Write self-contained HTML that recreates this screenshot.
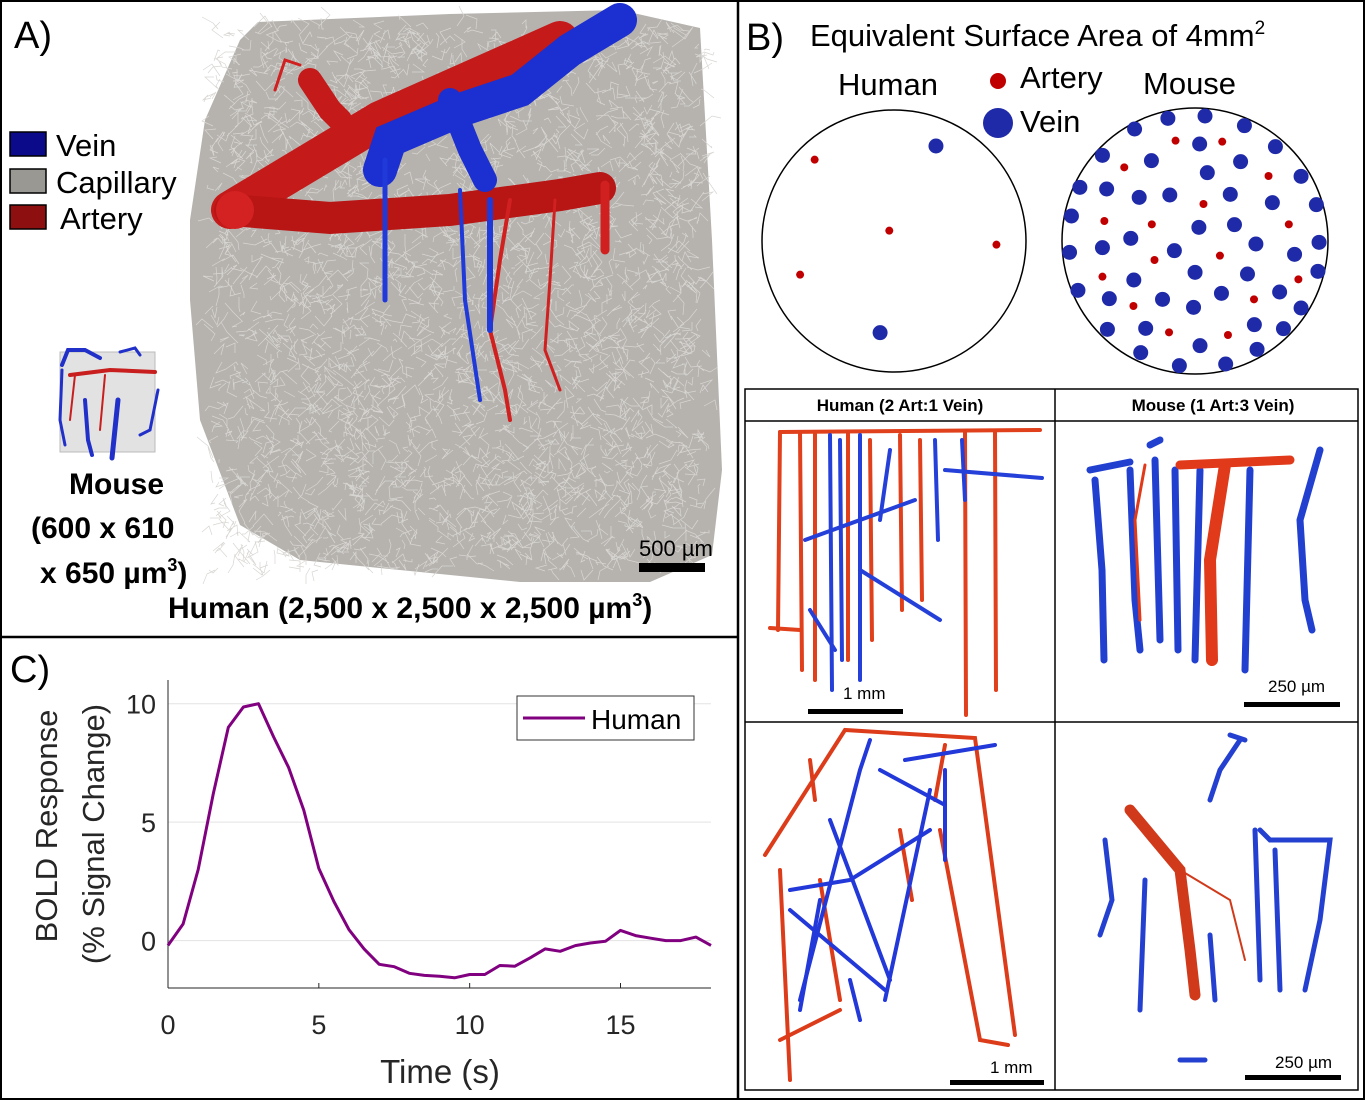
<!DOCTYPE html>
<html><head><meta charset="utf-8">
<style>
html,body{margin:0;padding:0;background:#fff;}
body{width:1365px;height:1100px;position:relative;overflow:hidden;font-family:"Liberation Sans",sans-serif;}
svg{position:absolute;left:0;top:0;}
</style></head>
<body>
<svg id="fig" width="1365" height="1100" viewBox="0 0 1365 1100">
  <rect x="1" y="1" width="1363" height="1098" fill="#fff" stroke="#000" stroke-width="2"/>
  <line x1="738" y1="0" x2="738" y2="1100" stroke="#000" stroke-width="2.5"/>
  <line x1="0" y1="637" x2="738" y2="637" stroke="#000" stroke-width="2.5"/>

  <!-- Panel A -->
  <g id="panelA">
    <text x="14" y="48" font-size="38">A)</text>
    <polygon id="volume" points="258,22 450,14 620,10 700,28 712,240 722,470 712,555 650,582 520,582 300,560 240,525 200,420 190,300 190,220 205,120 240,40" fill="#b6b3af"/>
    <g id="caps" stroke="#d8d6d2" stroke-width="0.7" fill="none"></g>
    <!-- arteries -->
    <g stroke-linecap="round" fill="none">
      <path d="M230,210 L380,120 L560,40" stroke="#c41a1a" stroke-width="38"/>
      <path d="M230,210 L330,218 L450,210 L560,195 L600,188" stroke="#b81515" stroke-width="32"/>
      <path d="M310,80 L330,110 L340,120" stroke="#c41a1a" stroke-width="24"/>
      <path d="M605,185 L605,250" stroke="#d02020" stroke-width="9"/>
      <path d="M510,200 L500,260 L490,330 L505,390 L510,420" stroke="#d02020" stroke-width="4"/>
      <path d="M555,200 L550,280 L545,350 L560,390" stroke="#d02020" stroke-width="3"/>
      <path d="M275,90 L285,60 L300,65" stroke="#d02020" stroke-width="3"/>
    </g>
    <circle cx="235" cy="210" r="19" fill="#d42222"/>
    <!-- veins -->
    <g stroke-linecap="round" fill="none">
      <path d="M380,170 L390,140 L460,110 L520,90 L570,50 L620,20" stroke="#1c2fd0" stroke-width="34"/>
      <path d="M450,100 L470,150 L485,180" stroke="#1c2fd0" stroke-width="24"/>
      <path d="M385,160 L385,300" stroke="#1f3ad8" stroke-width="5"/>
      <path d="M460,190 L465,300 L480,400" stroke="#1f3ad8" stroke-width="4"/>
      <path d="M490,200 L490,330" stroke="#1f3ad8" stroke-width="6"/>
    </g>
    <!-- legend -->
    <g>
      <rect x="10" y="132" width="36" height="24" fill="#0a0a8a" stroke="#000" stroke-width="1.5"/>
      <text x="56" y="156" font-size="31">Vein</text>
      <rect x="10" y="169" width="36" height="24" fill="#9a9893" stroke="#000" stroke-width="1.5"/>
      <text x="56" y="193" font-size="31">Capillary</text>
      <rect x="10" y="205" width="36" height="24" fill="#8e0f0f" stroke="#000" stroke-width="1.5"/>
      <text x="60" y="229" font-size="31">Artery</text>
    </g>
    <!-- mouse mini -->
    <g fill="none" stroke-linecap="round">
      <rect x="60" y="352" width="95" height="100" fill="#e2e2e2" stroke="#bbb"/>
      <path d="M62,365 L68,350 L85,350 L100,358" stroke="#2130c8" stroke-width="4"/>
      <path d="M120,352 L135,348 L140,355" stroke="#2130c8" stroke-width="3"/>
      <path d="M62,370 L60,420 L65,445" stroke="#2130c8" stroke-width="3"/>
      <path d="M85,400 L88,440 L92,455" stroke="#2130c8" stroke-width="4"/>
      <path d="M118,400 L112,458" stroke="#2130c8" stroke-width="5"/>
      <path d="M158,390 L150,430 L140,435" stroke="#2130c8" stroke-width="3"/>
      <path d="M70,375 L110,370 L155,372" stroke="#c81e1e" stroke-width="4"/>
      <path d="M75,375 L70,420" stroke="#c81e1e" stroke-width="2"/>
      <path d="M105,375 L100,430" stroke="#c81e1e" stroke-width="2"/>
    </g>
    <g font-weight="bold" font-size="30">
      <text x="69" y="494">Mouse</text>
      <text x="31" y="538">(600 x 610</text>
      <text x="40" y="583">x 650 µm<tspan font-size="18" dy="-12">3</tspan><tspan dy="12">)</tspan></text>
      <text x="168" y="618">Human (2,500 x 2,500 x 2,500 µm<tspan font-size="18" dy="-12">3</tspan><tspan dy="12">)</tspan></text>
    </g>
    <text x="639" y="556" font-size="22">500 µm</text>
    <rect x="639" y="563" width="66" height="9" fill="#000"/>
  </g>

  <!-- Panel B top -->
  <g id="panelB">
    <text x="746" y="50" font-size="38">B)</text>
    <text x="810" y="46" font-size="31">Equivalent Surface Area of 4mm<tspan font-size="19" dy="-12">2</tspan></text>
    <text x="838" y="95" font-size="31">Human</text>
    <text x="1143" y="94" font-size="31">Mouse</text>
    <circle cx="998" cy="81" r="8" fill="#c00000"/>
    <text x="1020" y="88" font-size="31">Artery</text>
    <circle cx="998" cy="123" r="15" fill="#1f2aa8"/>
    <text x="1020" y="132" font-size="31">Vein</text>
    <ellipse cx="894" cy="241" rx="132" ry="131" fill="none" stroke="#000" stroke-width="1.5"/>
    <ellipse cx="1195" cy="241" rx="133" ry="133" fill="none" stroke="#000" stroke-width="1.5"/>
    <g id="dots"></g>

    <!-- lower table -->
    <g>
      <rect x="745" y="389" width="613" height="701" fill="none" stroke="#000" stroke-width="1.5"/>
      <line x1="1055" y1="389" x2="1055" y2="1090" stroke="#000" stroke-width="1.5"/>
      <line x1="745" y1="421" x2="1358" y2="421" stroke="#000" stroke-width="1.5"/>
      <line x1="745" y1="722" x2="1358" y2="722" stroke="#000" stroke-width="1.5"/>
      <text x="900" y="411" font-size="17" font-weight="bold" text-anchor="middle">Human (2 Art:1 Vein)</text>
      <text x="1213" y="411" font-size="17" font-weight="bold" text-anchor="middle">Mouse (1 Art:3 Vein)</text>
    </g>
    <!-- human top -->
    <g fill="none" stroke-linecap="round">
      <g stroke="#e0401c" stroke-width="4">
        <path d="M780,432 L1040,430"/><path d="M780,432 L778,630"/><path d="M800,432 L802,670"/>
        <path d="M815,432 L815,680"/><path d="M848,432 L848,660"/><path d="M870,440 L872,640"/>
        <path d="M900,435 L902,610"/><path d="M965,432 L966,715"/><path d="M995,432 L996,690"/>
        <path d="M920,440 L922,600"/><path d="M770,628 L800,630"/>
      </g>
      <g stroke="#2540d8" stroke-width="4">
        <path d="M830,435 L832,690"/><path d="M840,440 L842,660"/><path d="M860,435 L860,680"/>
        <path d="M805,540 L915,500"/><path d="M860,570 L940,620"/><path d="M945,470 L1042,478"/>
        <path d="M935,440 L938,540"/><path d="M962,440 L965,500"/><path d="M810,610 L835,650"/>
        <path d="M890,450 L880,520"/>
      </g>
      <rect x="808" y="709" width="95" height="5" fill="#000" stroke="none"/>
      <text x="843" y="699" font-size="17" fill="#000" stroke="none">1 mm</text>
    </g>
    <!-- mouse top -->
    <g fill="none" stroke-linecap="round">
      <g stroke="#2240d0" stroke-width="7">
        <path d="M1095,480 L1102,570 L1104,660"/><path d="M1090,470 L1130,462"/>
        <path d="M1130,470 L1135,600 L1140,650"/><path d="M1155,460 L1160,640"/>
        <path d="M1175,470 L1178,650"/><path d="M1200,470 L1195,660"/>
        <path d="M1250,470 L1245,670"/><path d="M1320,450 L1300,520 L1305,600 L1312,630"/>
        <path d="M1150,445 L1160,440"/>
      </g>
      <path d="M1180,465 L1290,460" stroke="#e03a1a" stroke-width="9"/>
      <path d="M1225,465 L1210,560 L1212,660" stroke="#e03a1a" stroke-width="12"/>
      <path d="M1145,465 L1135,520 L1140,620" stroke="#e03a1a" stroke-width="3"/>
      <rect x="1244" y="702" width="96" height="5" fill="#000" stroke="none"/>
      <text x="1268" y="692" font-size="17" fill="#000" stroke="none">250 µm</text>
    </g>
    <!-- human bottom -->
    <g fill="none" stroke-linecap="round">
      <g stroke="#dc3c1a" stroke-width="4">
        <path d="M765,855 L845,730 L975,738 L1015,1035"/><path d="M945,745 L935,800"/>
        <path d="M780,870 L790,1080"/><path d="M820,880 L840,1000"/>
        <path d="M940,830 L980,1040 L1008,1045"/><path d="M810,760 L815,800"/>
        <path d="M900,830 L912,900"/><path d="M780,1040 L840,1010"/>
      </g>
      <g stroke="#2238d8" stroke-width="4">
        <path d="M790,890 L850,880 L930,830"/><path d="M800,1000 L860,770 L870,740"/>
        <path d="M830,820 L890,980"/><path d="M880,770 L945,805"/><path d="M905,760 L995,745"/>
        <path d="M790,910 L885,990"/><path d="M820,900 L800,1010"/><path d="M850,980 L860,1020"/>
        <path d="M945,770 L945,860"/><path d="M930,790 L885,1000"/>
      </g>
      <rect x="950" y="1080" width="94" height="5" fill="#000" stroke="none"/>
      <text x="990" y="1073" font-size="17" fill="#000" stroke="none">1 mm</text>
    </g>
    <!-- mouse bottom -->
    <g fill="none" stroke-linecap="round">
      <g stroke="#2440d0" stroke-width="5">
        <path d="M1240,740 L1220,770 L1210,800"/><path d="M1230,735 L1245,740"/>
        <path d="M1105,840 L1112,900 L1100,935"/><path d="M1145,880 L1140,1010"/>
        <path d="M1260,830 L1270,840 L1330,840 L1320,920 L1305,990"/>
        <path d="M1255,830 L1260,980"/><path d="M1275,850 L1280,990"/><path d="M1210,935 L1215,1000"/>
        <path d="M1180,1060 L1205,1060"/>
      </g>
      <path d="M1130,810 L1180,870 L1190,950 L1195,995" stroke="#d03a1a" stroke-width="11"/>
      <path d="M1180,870 L1230,900 L1245,960" stroke="#d03a1a" stroke-width="2"/>
      <rect x="1245" y="1075" width="96" height="5" fill="#000" stroke="none"/>
      <text x="1275" y="1068" font-size="17" fill="#000" stroke="none">250 µm</text>
    </g>
  </g>

  <!-- Panel C chart -->
  <g id="panelC">
    <text x="10" y="682" font-size="38">C)</text>
    <g id="chart"></g>
  </g>
</svg>
<script>
// ---- Panel C data ----
const times = [0,0.5,1,1.5,2,2.5,3,3.5,4,4.5,5,5.5,6,6.5,7,7.5,8,8.5,9,9.5,10,10.5,11,11.5,12,12.5,13,13.5,14,14.5,15,15.5,16,16.5,17,17.5,18];
const bold = [-0.2,0.7,3.0,6.2,9.0,9.86,10.0,8.6,7.3,5.5,3.05,1.65,0.46,-0.35,-1.0,-1.1,-1.38,-1.47,-1.5,-1.57,-1.43,-1.43,-1.05,-1.08,-0.73,-0.35,-0.45,-0.21,-0.1,-0.03,0.43,0.21,0.1,0,0,0.15,-0.2];
const xTicks = [0,5,10,15];
const yTicks = [0,5,10];
const seriesName = "Human";

const NS = "http://www.w3.org/2000/svg";
function mk(tag, attrs, parent){const e=document.createElementNS(NS,tag);for(const k in attrs)e.setAttribute(k,attrs[k]);parent.appendChild(e);return e;}
const X0=168,X1=711,Y0=988,Y1=680;
const xMin=0,xMax=18,yMin=-2,yMax=11;
const sx=v=>X0+(v-xMin)/(xMax-xMin)*(X1-X0);
const sy=v=>Y0-(v-yMin)/(yMax-yMin)*(Y0-Y1);
const chart=document.getElementById('chart');

yTicks.forEach(t=>{
  const g=mk('line',{x1:X0,x2:X1,y1:sy(t),y2:sy(t),stroke:'#e3e3e3','stroke-width':1},chart);
  
  
  const l=mk('text',{x:X0-12,y:sy(t)+10,'font-size':27,'text-anchor':'end',fill:'#262626'},chart);
  l.textContent=t;
  
  
});
const xa=mk('line',{x1:X0,x2:X1,y1:Y0,y2:Y0,stroke:'#262626','stroke-width':1},chart);


const ya=mk('line',{x1:X0,x2:X0,y1:Y0,y2:Y1,stroke:'#262626','stroke-width':1},chart);


xTicks.forEach(t=>{
  mk('line',{x1:sx(t),x2:sx(t),y1:Y0,y2:Y0-5,stroke:'#262626'},chart);
  const l=mk('text',{x:sx(t),y:Y0+46,'font-size':27,'text-anchor':'middle',fill:'#262626'},chart);
  l.textContent=t;
  
  
});
const xt=mk('text',{x:440,y:1083,'font-size':33,'text-anchor':'middle',fill:'#262626'},chart);
xt.textContent='Time (s)';


const yt=mk('text',{transform:'translate(57,826) rotate(-90)','font-size':31,'text-anchor':'middle',fill:'#262626'},chart);
yt.textContent='BOLD Response';


const yt2=mk('text',{transform:'translate(104,834) rotate(-90)','font-size':31,'text-anchor':'middle',fill:'#262626'},chart);
yt2.textContent='(% Signal Change)';



const pts=times.map((t,i)=>sx(t).toFixed(1)+','+sy(bold[i]).toFixed(1)).join(' ');
const line=mk('polyline',{points:pts,fill:'none',stroke:'#800080','stroke-width':3,'stroke-linejoin':'round'},chart);



const lg=mk('g',{},chart);


mk('rect',{x:517,y:696,width:177,height:44,fill:'#fff',stroke:'#333','stroke-width':1},lg);
mk('line',{x1:523,x2:585,y1:718,y2:718,stroke:'#800080','stroke-width':3},lg);
const lt=mk('text',{x:591,y:729,'font-size':28,fill:'#000'},lg);
lt.textContent=seriesName;

// ---- Panel B dots ----
const humanVeins=[[499,138],[353,698]];
const humanArts=[[182,179],[377,392],[657,434],[144,524]];
const mouseVeins=[[1018,87],[1105,55],[1202,48],[1305,77],[934,166],[1062,182],[1188,132],[1295,185],[1386,140],[875,262],[945,267],[1030,292],[1110,285],[1208,218],[1268,283],[1378,308],[1453,229],[1493,314],[853,348],[1008,415],[1186,382],[1279,374],[1335,432],[1500,427],[848,457],[934,443],[1122,452],[1176,517],[1313,522],[1436,463],[1497,514],[870,571],[952,596],[1016,540],[1091,598],[1172,622],[1245,580],[1397,576],[1453,624],[947,688],[1047,685],[1189,737],[1331,674],[1407,686],[1034,758],[1135,797],[1256,792],[1338,748]];
const mouseArts=[[1125,122],[1247,125],[991,202],[1368,228],[1198,312],[939,363],[1063,373],[1421,373],[1070,480],[1241,467],[934,530],[1446,538],[1015,618],[1330,598],[1108,697],[1262,705]];
const dots=document.getElementById('dots');
function dot(p,r,c,name){const e=mk('circle',{cx:745+p[0]/2.613,cy:100+p[1]/3,r:r,fill:c},dots);}
humanVeins.forEach(p=>dot(p,7.5,'#1f2aa8','human-vein-dot'));
humanArts.forEach(p=>dot(p,4,'#c00000','human-artery-dot'));
mouseVeins.forEach(p=>dot(p,7.5,'#1f2aa8','mouse-vein-dot'));
mouseArts.forEach(p=>dot(p,4,'#c00000','mouse-artery-dot'));

// ---- decorative capillary texture (deterministic) ----
const caps=document.getElementById('caps');
let s=12345;function rnd(){s=(s*16807)%2147483647;return s/2147483647;}
let d='';
for(let i=0;i<3000;i++){
  let x=210+rnd()*495,y=25+rnd()*545;
  d+='M'+x.toFixed(0)+','+y.toFixed(0)+'l'+((rnd()-0.5)*24).toFixed(0)+','+((rnd()-0.5)*24).toFixed(0)+'l'+((rnd()-0.5)*24).toFixed(0)+','+((rnd()-0.5)*24).toFixed(0);
}
const cp=mk('path',{d:d},caps);


const vol=document.getElementById('volume');
vol.parentNode.insertBefore(caps,vol.nextSibling);
</script>
</body></html>
